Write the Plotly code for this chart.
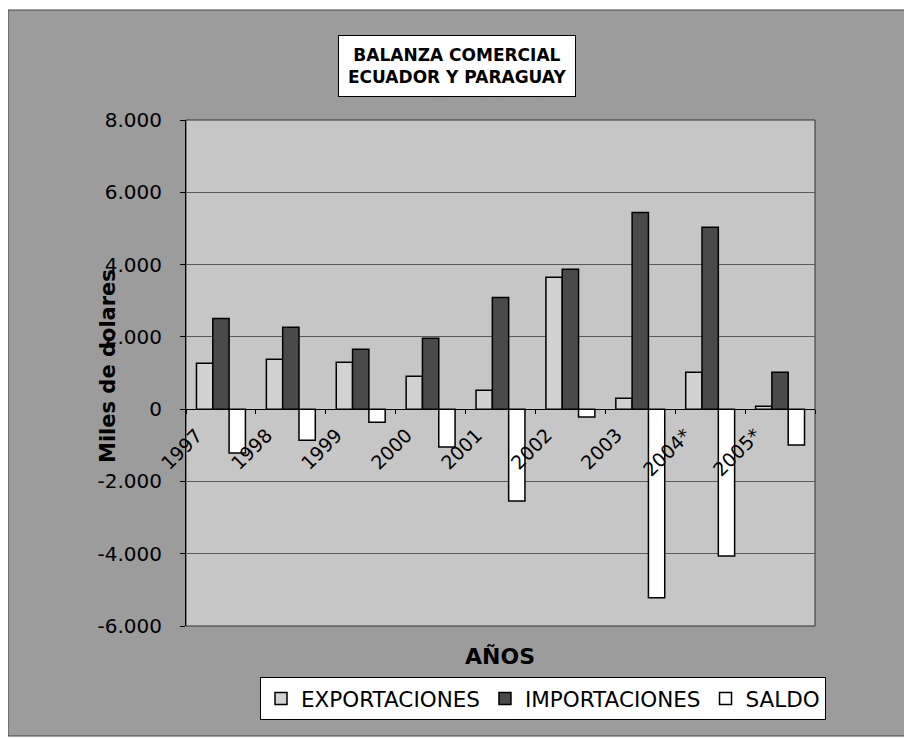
import plotly.graph_objects as go

years = ["1997", "1998", "1999", "2000", "2001", "2002", "2003", "2004*", "2005*"]
exportaciones = [1270, 1380, 1300, 910, 525, 3650, 300, 1020, 80]
importaciones = [2510, 2265, 1660, 1960, 3090, 3870, 5440, 5030, 1020]
saldo = [-1215, -860, -360, -1050, -2540, -220, -5220, -4060, -995]

y_ticks = [8000, 6000, 4000, 2000, 0, -2000, -4000, -6000]
y_ticktext = ["8.000", "6.000", "4.000", "2.000", "0", "-2.000", "-4.000", "-6.000"]

FONT = "DejaVu Sans, Liberation Sans, Arial, sans-serif"

# page body has an 8px margin: figure coordinates = reference coordinates - 8
W, H = 904, 730
PL, PR, PT, PB = 186 - 8, 815 - 8, 120 - 8, 626 - 8
PW, PH = PR - PL, PB - PT


def px(xr):
    return (xr - 8 - PL) / PW


def py(yr):
    return (PB - (yr - 8)) / PH


fig = go.Figure()
fig.add_trace(go.Bar(name="EXPORTACIONES", x=years, y=exportaciones,
                     marker=dict(color="#d2d2d2", line=dict(color="black", width=1.5))))
fig.add_trace(go.Bar(name="IMPORTACIONES", x=years, y=importaciones,
                     marker=dict(color="#4a4a4a", line=dict(color="black", width=1.5))))
fig.add_trace(go.Bar(name="SALDO", x=years, y=saldo,
                     marker=dict(color="white", line=dict(color="black", width=1.5))))

ymin, ymax = -6000, 8000
zero_pos = (0 - ymin) / (ymax - ymin)

annotations = [
    dict(text="<b>BALANZA COMERCIAL<br>ECUADOR Y PARAGUAY</b>", xref="paper", yref="paper",
         x=px(457), y=py(66), xanchor="center", yanchor="middle",
         showarrow=False, font=dict(size=17, family=FONT), align="center",
         bgcolor="white", bordercolor="black", borderwidth=1, borderpad=9),
    dict(text="<b>AÑOS</b>", xref="paper", yref="paper",
         x=px(500), y=py(656), xanchor="center", yanchor="middle",
         showarrow=False, font=dict(size=22, family=FONT)),
    dict(text="<b>Miles de dolares</b>", xref="paper", yref="paper",
         x=px(108), y=py(366), xanchor="center", yanchor="middle",
         textangle=-90, showarrow=False, font=dict(size=21, family=FONT)),
]
for i, yr in enumerate(years):
    annotations.append(dict(text=yr, xref="x", yref="y", x=i, y=0,
                            xanchor="right", yanchor="top", textangle=-45,
                            xshift=-12, yshift=-12, showarrow=False,
                            font=dict(size=19, family=FONT)))

fig.update_layout(
    width=W, height=H,
    margin=dict(l=PL, r=W - PR, t=PT, b=H - PB, autoexpand=False),
    paper_bgcolor="white",
    plot_bgcolor="rgba(0,0,0,0)",
    font=dict(family=FONT, color="black", size=15),
    barmode="group",
    bargap=0.3,
    bargroupgap=0.0,
    showlegend=True,
    legend=dict(orientation="h", x=px(543), xanchor="center", y=py(677), yanchor="top",
                bgcolor="white", bordercolor="black", borderwidth=1,
                font=dict(size=21.5, family=FONT), traceorder="normal"),
    xaxis=dict(type="category", anchor="free", position=zero_pos,
               range=[-0.5, len(years) - 0.5], autorange=False,
               showline=True, linecolor="black", linewidth=1,
               ticks="outside", ticklen=4, tickcolor="black", tickson="boundaries",
               showticklabels=False, showgrid=False, zeroline=False),
    yaxis=dict(range=[ymin, ymax], tickvals=y_ticks, ticktext=y_ticktext,
               showline=True, linecolor="black", linewidth=1,
               ticks="outside", ticklen=5, tickcolor="black",
               tickfont=dict(size=20, family=FONT), ticklabelstandoff=14,
               showgrid=True, gridcolor="#5a5a5a", gridwidth=1,
               zeroline=False),
    shapes=[
        dict(type="rect", xref="paper", yref="paper",
             x0=px(8), x1=px(910), y0=py(736), y1=py(10),
             fillcolor="#9c9c9c", line=dict(color="#444444", width=1), layer="below"),
        dict(type="rect", xref="paper", yref="paper", x0=0, x1=1, y0=0, y1=1,
             fillcolor="#c6c6c6", line=dict(color="#333333", width=1), layer="below"),
    ],
    annotations=annotations,
)

fig.write_html("out.html")
